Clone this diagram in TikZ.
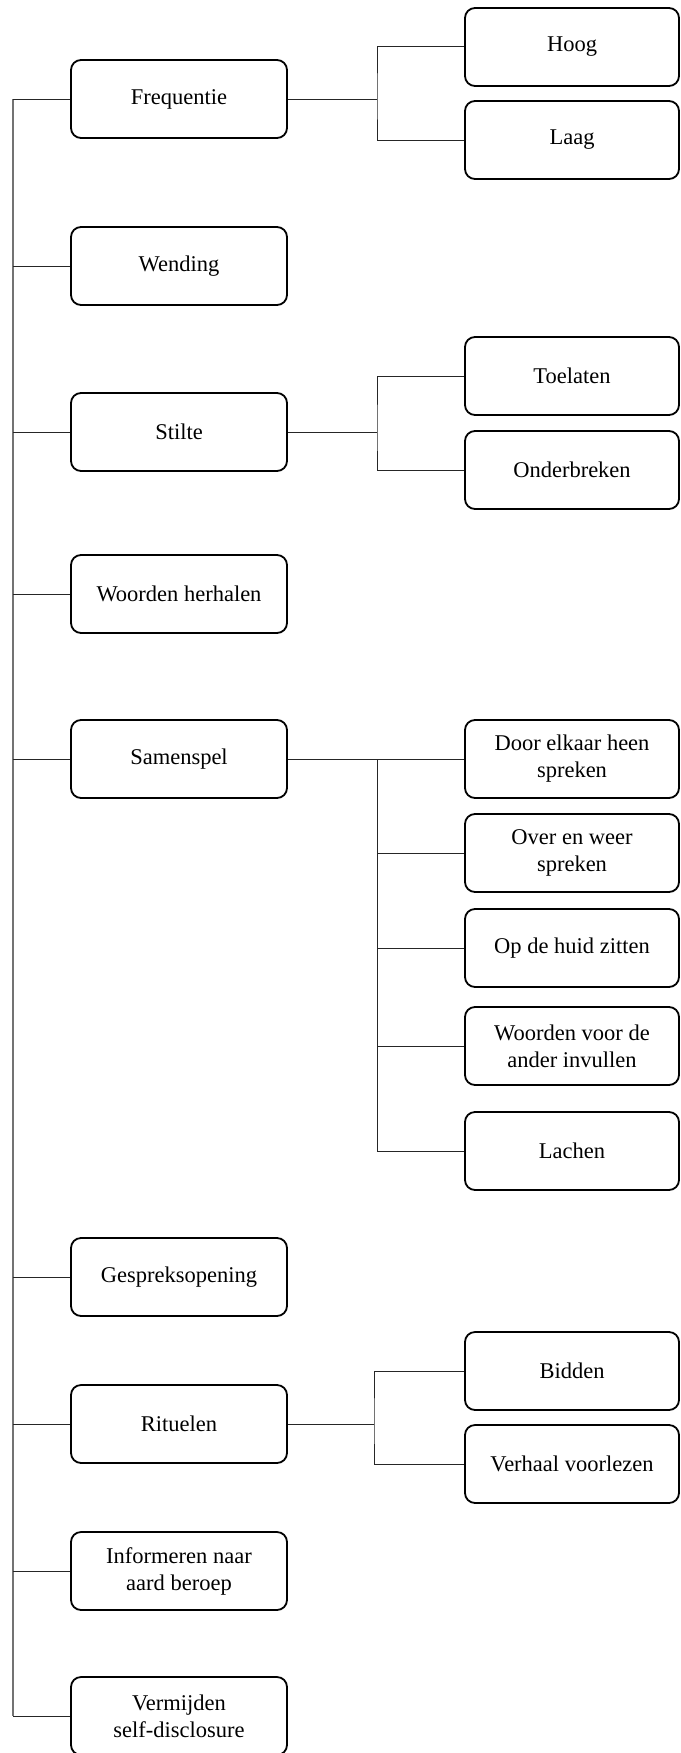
\documentclass[tikz,border=0pt]{standalone}
\usepackage{fontspec}
\setmainfont{Liberation Serif}
\usepackage{tikz}
\usetikzlibrary{positioning, calc}

\begin{document}
\begin{tikzpicture}[x=1pt, y=-1pt,
  cat/.style={draw, line width=1.8pt, rounded corners=10pt, minimum width=216pt, minimum height=78pt,
              align=center, font=\fontsize{22.5}{27}\selectfont, inner sep=2pt},
  sub/.style={cat, minimum width=214pt},
  link/.style={line width=1pt, color=black!85}
]
  \useasboundingbox (0,0) rectangle (680,1753);

  % hoofdcategorieen
  \node[cat] (freq) at (179, 99) {Frequentie};
  \node[cat] (wend) at (179, 266) {Wending};
  \node[cat] (stil) at (179, 432) {Stilte};
  \node[cat] (herh) at (179, 594) {Woorden herhalen};
  \node[cat] (samen) at (179, 759) {Samenspel};
  \node[cat] (opening) at (179, 1277) {Gespreksopening};
  \node[cat] (ritu) at (179, 1424) {Rituelen};
  \node[cat] (info) at (179, 1571) {Informeren naar\\aard beroep};
  \node[cat] (verm) at (179, 1716) {Vermijden\\self-disclosure};

  % subcategorieen
  \node[sub] (hoog) at (572, 47) {Hoog};
  \node[sub] (laag) at (572, 140) {Laag};
  \node[sub] (toel) at (572, 376) {Toelaten};
  \node[sub] (onder) at (572, 470) {Onderbreken};
  \node[sub] (door) at (572, 759) {Door elkaar heen\\spreken};
  \node[sub] (over) at (572, 853) {Over en weer\\spreken};
  \node[sub] (huid) at (572, 948) {Op de huid zitten};
  \node[sub] (invul) at (572, 1046) {Woorden voor de\\ander invullen};
  \node[sub] (lach) at (572, 1151) {Lachen};
  \node[sub] (bid) at (572, 1371) {Bidden};
  \node[sub] (verh) at (572, 1464) {Verhaal voorlezen};

  % stam links
  \coordinate (trunk) at (13, 0);
  \draw[link, line width=1.8pt, color=black!55] (freq.west -| trunk) -- (verm.west -| trunk);
  \foreach \n in {freq, wend, stil, herh, samen, opening, ritu, info, verm}
    \draw[link] (\n.west -| trunk) -- (\n.west);

  % vertakkingen
  \coordinate (freqbr) at (377, 99);
  \coordinate (stilbr) at (377, 432);
  \coordinate (sambr) at (377, 759);
  \coordinate (ritubr) at (374, 1424);

  \draw[link] (freq.east) -- (freqbr);
  \draw[link] (hoog.west) -| (freqbr) |- (laag.west);

  \draw[link] (stil.east) -- (stilbr);
  \draw[link] (toel.west) -| (stilbr) |- (onder.west);

  \draw[link] (samen.east) -- (door.west);
  \draw[link] (sambr) |- (lach.west);
  \foreach \n in {over, huid, invul}
    \draw[link] (sambr |- \n.west) -- (\n.west);

  \draw[link] (ritu.east) -- (ritubr);
  \draw[link] (bid.west) -| (ritubr) |- (verh.west);
\end{tikzpicture}
\end{document}
